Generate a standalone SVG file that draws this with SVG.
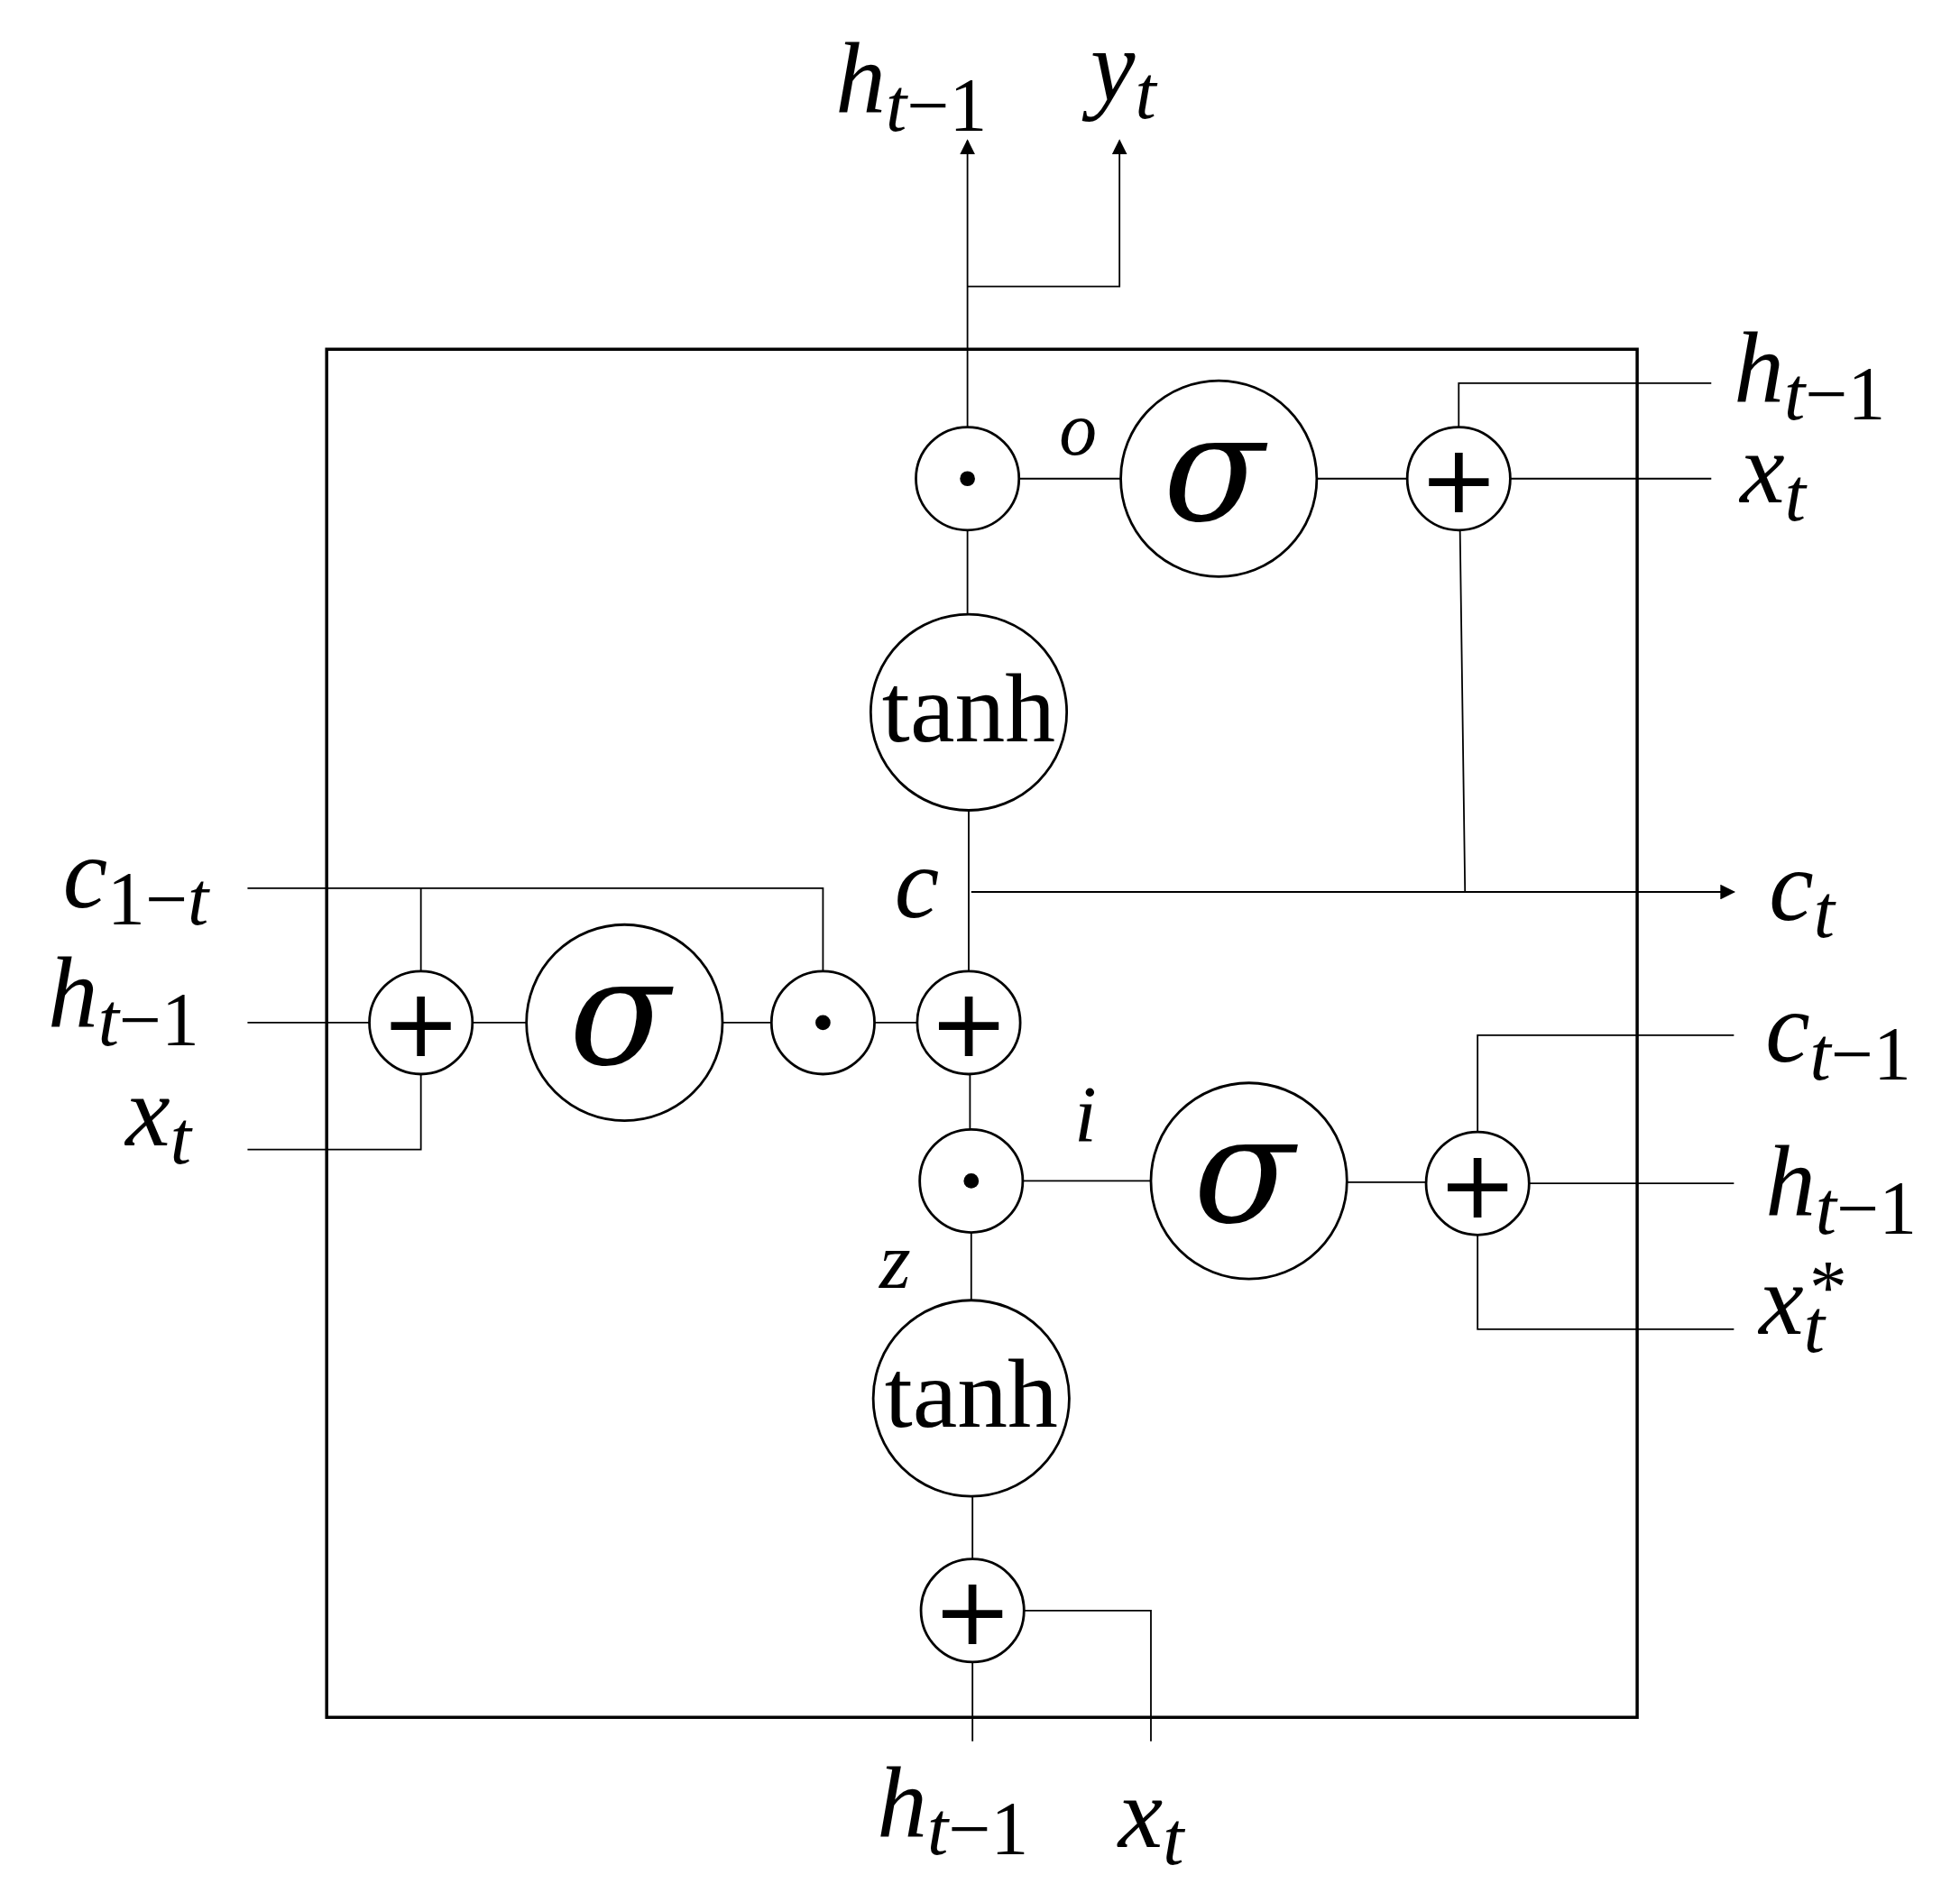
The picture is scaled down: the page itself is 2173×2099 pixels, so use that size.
<svg xmlns="http://www.w3.org/2000/svg" width="2173" height="2099" viewBox="0 0 2173 2099">
<style>
.ln{fill:none;stroke:#000;stroke-width:1.3}
.nd{fill:#fff;stroke:#000;stroke-width:2}
.m{font-family:"Liberation Serif","DejaVu Serif",serif;font-style:italic;font-size:80px;fill:#000}
.s{font-size:60px}
.u{font-style:normal}
.sg{font-family:"DejaVu Serif","Liberation Serif",serif;font-style:italic;font-size:118px;fill:#000}
.op{font-family:"DejaVu Sans",sans-serif;font-size:76px;fill:#000}
.th{font-family:"Liberation Serif",serif;font-size:78px;fill:#000}
</style>
<defs><marker id="ar" viewBox="0 0 10 10" refX="9" refY="5" markerWidth="12" markerHeight="12" markerUnits="userSpaceOnUse" orient="auto"><path d="M0,0L10,5L0,10z"/></marker></defs>
<rect width="2173" height="2099" fill="#fff"/>
<g transform="scale(1.393)">
<rect x="260" y="278" width="1043" height="1089" fill="none" stroke="#000" stroke-width="2.5"/>
<g id="connectors">
<path class="ln" d="M770,340V112" marker-end="url(#ar)"/>
<path class="ln" d="M770,228H891V112" marker-end="url(#ar)"/>
<path class="ln" d="M811,381H892M1048,381H1120M1202,381H1362M1161,340V305H1362M1162,422L1166,710"/>
<path class="ln" d="M770,422V489M771,645V773"/>
<path class="ln" d="M773,710H1380" marker-end="url(#ar)"/>
<path class="ln" d="M197,707H655V773M335,707V773M197,814H294M376,814H419M575,814H614M696,814H730M197,915H335V855"/>
<path class="ln" d="M772,855V899M814,940H916M1072,941H1135M1217,942H1380M1176,901V824H1380M1176,983V1058H1380"/>
<path class="ln" d="M773,981V1035M774,1191V1241M815,1282H916V1386M774,1323V1386"/>
</g>
<g id="n_dot_o"><circle class="nd" cx="770" cy="381" r="41"/><circle cx="770" cy="381" r="6"/></g>
<g id="n_sig_o"><circle class="nd" cx="970" cy="381" r="78"/><text class="sg" x="966" y="414" text-anchor="middle">σ</text></g>
<g id="n_plus_o"><circle class="nd" cx="1161" cy="381" r="41"/><text class="op" x="1161" y="408" text-anchor="middle">+</text></g>
<g id="n_tanh1"><circle class="nd" cx="771" cy="567" r="78"/><text class="th" x="771" y="590" text-anchor="middle" textLength="138" lengthAdjust="spacingAndGlyphs">tanh</text></g>
<g id="n_plus_f"><circle class="nd" cx="335" cy="814" r="41"/><text class="op" x="335" y="841" text-anchor="middle">+</text></g>
<g id="n_sig_f"><circle class="nd" cx="497" cy="814" r="78"/><text class="sg" x="493" y="847" text-anchor="middle">σ</text></g>
<g id="n_dot_f"><circle class="nd" cx="655" cy="814" r="41"/><circle cx="655" cy="814" r="6"/></g>
<g id="n_plus_c"><circle class="nd" cx="771" cy="814" r="41"/><text class="op" x="771" y="841" text-anchor="middle">+</text></g>
<g id="n_dot_i"><circle class="nd" cx="773" cy="940" r="41"/><circle cx="773" cy="940" r="6"/></g>
<g id="n_sig_i"><circle class="nd" cx="994" cy="940" r="78"/><text class="sg" x="990" y="973" text-anchor="middle">σ</text></g>
<g id="n_plus_i"><circle class="nd" cx="1176" cy="942" r="41"/><text class="op" x="1176" y="969" text-anchor="middle">+</text></g>
<g id="n_tanh2"><circle class="nd" cx="773" cy="1113" r="78"/><text class="th" x="773" y="1136" text-anchor="middle" textLength="138" lengthAdjust="spacingAndGlyphs">tanh</text></g>
<g id="n_plus_z"><circle class="nd" cx="774" cy="1282" r="41"/><text class="op" x="774" y="1309" text-anchor="middle">+</text></g>
<g id="labels">
<text class="m" x="665" y="90">h<tspan class="s" dy="14">t<tspan class="u">−1</tspan></tspan></text>
<text class="m" x="868" y="80">y<tspan class="s" dy="14">t</tspan></text>
<text class="m" x="1380" y="320">h<tspan class="s" dy="14">t<tspan class="u">−1</tspan></tspan></text>
<text class="m" x="1385" y="400">x<tspan class="s" dy="14">t</tspan></text>
<text class="m" x="843" y="362" style="font-size:60px">o</text>
<text class="m" x="712" y="730">c</text>
<text class="m" x="1408" y="732">c<tspan class="s" dy="14">t</tspan></text>
<text class="m" x="50" y="722">c<tspan class="s u" dy="14">1−</tspan><tspan class="s" >t</tspan></text>
<text class="m" x="38" y="818">h<tspan class="s" dy="14">t<tspan class="u">−1</tspan></tspan></text>
<text class="m" x="100" y="912">x<tspan class="s" dy="14">t</tspan></text>
<text class="m" x="855" y="908" style="font-size:64px">i</text>
<text class="m" x="1405" y="845">c<tspan class="s" dy="14">t<tspan class="u">−1</tspan></tspan></text>
<text class="m" x="1405" y="968">h<tspan class="s" dy="14">t<tspan class="u">−1</tspan></tspan></text>
<text class="m" x="1400" y="1062">x<tspan class="s" dy="14">t</tspan><tspan class="s u" x="1440" y="1045">*</tspan></text>
<text class="m" x="700" y="1025" style="font-size:64px">z</text>
<text class="m" x="698" y="1462">h<tspan class="s" dy="14">t<tspan class="u">−1</tspan></tspan></text>
<text class="m" x="890" y="1470">x<tspan class="s" dy="14">t</tspan></text>
</g>
</g>
</svg>
